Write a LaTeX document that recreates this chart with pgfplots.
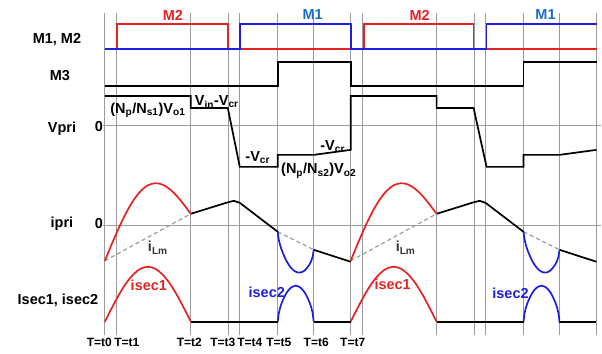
\documentclass[border=0pt]{standalone}
\usepackage{pgfplots}
\pgfplotsset{compat=1.18}
\usepackage{fontspec}
\setmainfont{Liberation Sans}
\definecolor{myred}{RGB}{228,35,35}
\definecolor{myblue}{RGB}{30,30,220}
\definecolor{lblue}{RGB}{25,110,200}
\definecolor{gridc}{RGB}{155,155,155}
\begin{document}
\begin{tikzpicture}
\begin{axis}[width=602pt,height=354pt,scale only axis,
  xmin=0,xmax=602,ymin=0,ymax=354,y dir=reverse,hide axis,clip=false]
\addplot[draw=none,forget plot] coordinates {(0,0) (602,354)};
% grid
\pgfplotsinvokeforeach{105,117,191,229,240,278,314,351,363,437,475,486,524,560,597}{
  \addplot[gridc,line width=1.1pt,forget plot] coordinates {(#1,13) (#1,335)};
}
\addplot[gridc,line width=1.1pt] coordinates {(103,126) (602,126)};
\addplot[gridc,line width=1.1pt] coordinates {(103,226) (602,226)};
% M2 (red)
\addplot[myred,line width=1.7pt] coordinates {(105,49) (117,49) (117,24) (228,24) (228,49) (364,49) (364,24) (474,24) (474,49) (598,49)};
% M1 (blue)
\addplot[myblue,line width=1.7pt] coordinates {(105,49) (240,49) (240,24) (351,24) (351,49) (487,49) (487,24) (598,24)};
% M3
\addplot[black,line width=1.7pt] coordinates {(105,86) (278,86) (278,62) (351,62) (351,86) (524,86) (524,62) (598,62)};
% Vpri
\addplot[black,line width=1.7pt] coordinates {(105,96) (191,96) (191,108) (228,108) (240,167) (278,167) (278,155) (314,155) (351,150) (351,96) (437,96) (437,108) (474,108) (487,167) (524,167) (524,155) (560,155) (597,150)};
% iLm dashed
\tikzset{ilm/.style={color=gridc,dash pattern=on 4pt off 3pt,line width=1.2pt}}
\addplot[ilm] coordinates {(105,261) (191,214)};
\addplot[ilm] coordinates {(278,232) (314,250)};
\addplot[ilm] coordinates {(351,261) (437,214)};
\addplot[ilm] coordinates {(524,232) (560,250)};
% ipri black parts
\addplot[black,line width=1.7pt] coordinates {(191,214) (228,202.5) (234,201) (240,203) (278,232)};
\addplot[black,line width=1.7pt] coordinates {(314,250) (351,262)};
\addplot[black,line width=1.7pt] coordinates {(437,214) (474,202.5) (480,201) (486,203) (524,232)};
\addplot[black,line width=1.7pt] coordinates {(560,250) (597,262)};
% ipri red arcs
\addplot[myred,line width=1.7pt,smooth] coordinates {(105,261) (112.17,243.6) (119.33,227.2) (126.5,212.5) (133.67,200.3) (140.83,191.2) (148,185.5) (155.17,183.4) (162.33,184.6) (169.5,189.0) (176.67,195.8) (183.83,204.5) (191,214)};
\addplot[myred,line width=1.7pt,smooth] coordinates {(351,261) (358.17,243.6) (365.33,227.2) (372.5,212.5) (379.67,200.3) (386.83,191.2) (394,185.5) (401.17,183.4) (408.33,184.6) (415.5,189.0) (422.67,195.8) (429.83,204.5) (437,214)};
% ipri blue arcs
\addplot[myblue,line width=1.7pt,smooth] coordinates {(278,232) (279.125,240.3) (280.25,244.8) (282.5,251.7) (287,261.7) (291.5,268.3) (296,272) (300.5,272.8) (305,270.7) (309.5,265.2) (311.75,260.5) (312.875,257.1) (314,250)};
\addplot[myblue,line width=1.7pt,smooth] coordinates {(524,232) (525.125,240.3) (526.25,244.8) (528.5,251.7) (533,261.7) (537.5,268.3) (542,272) (546.5,272.8) (551,270.7) (555.5,265.2) (557.75,260.5) (558.875,257.1) (560,250)};
% isec baseline
\addplot[black,line width=1.7pt] coordinates {(191,322) (278,322)};
\addplot[black,line width=1.7pt] coordinates {(314,322) (351,322)};
\addplot[black,line width=1.7pt] coordinates {(437,322) (524,322)};
\addplot[black,line width=1.7pt] coordinates {(560,322) (597,322)};
% isec1
\addplot[myred,line width=1.7pt,smooth] coordinates {(105,322) (112.17,307.8) (119.33,294.5) (126.5,283.1) (133.67,274.4) (140.83,268.9) (148,267) (155.17,268.9) (162.33,274.4) (169.5,283.1) (176.67,294.5) (183.83,307.8) (191,322)};
\addplot[myred,line width=1.7pt,smooth] coordinates {(351,322) (358.17,307.8) (365.33,294.5) (372.5,283.1) (379.67,274.4) (386.83,268.9) (394,267) (401.17,268.9) (408.33,274.4) (415.5,283.1) (422.67,294.5) (429.83,307.8) (437,322)};
% isec2
\addplot[myblue,line width=1.7pt,smooth] coordinates {(278,322) (279.125,313.1) (280.25,308.5) (282.5,301.8) (287,292.75) (291.5,287.7) (296,286) (300.5,287.7) (305,292.75) (309.5,301.8) (311.75,308.5) (312.875,313.1) (314,322)};
\addplot[myblue,line width=1.7pt,smooth] coordinates {(524,322) (525.125,313.1) (526.25,308.5) (528.5,301.8) (533,292.75) (537.5,287.7) (542,286) (546.5,287.7) (551,292.75) (555.5,301.8) (557.75,308.5) (558.875,313.1) (560,322)};
% labels
\tikzset{lab/.style={font=\bfseries\fontsize{14.5}{16}\selectfont,inner sep=0pt},
         tl/.style={font=\bfseries\fontsize{12}{13}\selectfont,inner sep=0pt}}
\node[lab,myred] at (axis cs:173,15) {M2};
\node[lab,myred] at (axis cs:420,15) {M2};
\node[lab,lblue] at (axis cs:313,15) {M1};
\node[lab,lblue] at (axis cs:546,15) {M1};
\node[lab] at (axis cs:57,40) {M1, M2};
\node[lab] at (axis cs:60,76) {M3};
\node[lab] at (axis cs:62,129) {Vpri};
\node[lab] at (axis cs:99,127) {0};
\node[lab] at (axis cs:62,224) {ipri};
\node[lab] at (axis cs:99,224) {0};
\node[lab] at (axis cs:58,301) {Isec1, isec2};
\node[lab] at (axis cs:148,110) {(N\textsubscript{p}/N\textsubscript{s1})V\textsubscript{o1}};
\node[lab] at (axis cs:217,102) {V\textsubscript{in}-V\textsubscript{cr}};
\node[lab] at (axis cs:258,158) {-V\textsubscript{cr}};
\node[lab] at (axis cs:319,171) {(N\textsubscript{p}/N\textsubscript{s2})V\textsubscript{o2}};
\node[lab] at (axis cs:333,147) {-V\textsubscript{cr}};
\node[lab,black!80] at (axis cs:158,248) {i\textsubscript{Lm}};
\node[lab,black!80] at (axis cs:406,248) {i\textsubscript{Lm}};
\node[lab,myred] at (axis cs:149,286) {isec1};
\node[lab,myred] at (axis cs:393,285) {isec1};
\node[lab,myblue] at (axis cs:267,293) {isec2};
\node[lab,myblue] at (axis cs:511,294) {isec2};
\node[tl] at (axis cs:99.5,343) {T=t0};
\node[tl] at (axis cs:127,343) {T=t1};
\node[tl] at (axis cs:189.5,343) {T=t2};
\node[tl] at (axis cs:223,343) {T=t3};
\node[tl] at (axis cs:250,343) {T=t4};
\node[tl] at (axis cs:279,343) {T=t5};
\node[tl] at (axis cs:316.5,343) {T=t6};
\node[tl] at (axis cs:353,343) {T=t7};
\end{axis}
\end{tikzpicture}
\end{document}
